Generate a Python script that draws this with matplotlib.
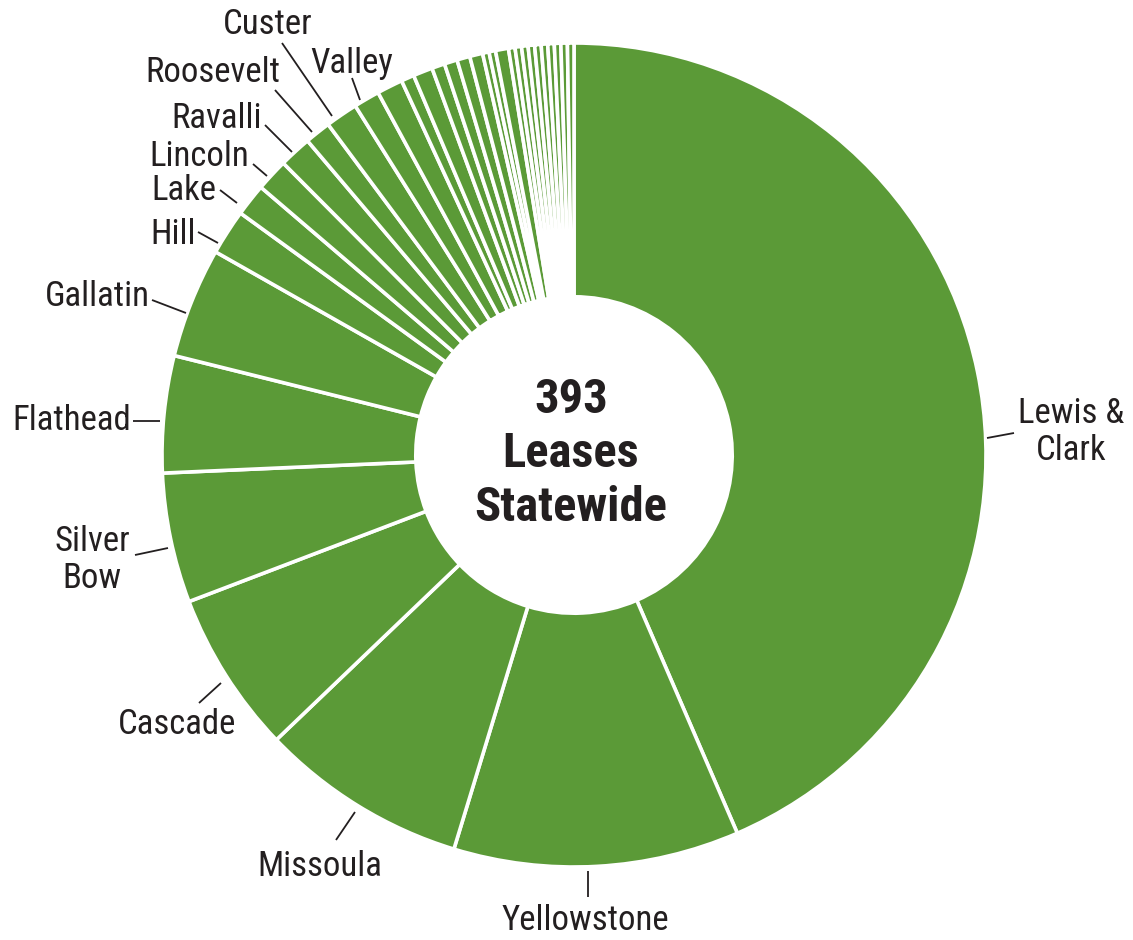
import matplotlib
matplotlib.use("Agg")
import matplotlib.pyplot as plt
import logging
logging.getLogger("matplotlib.font_manager").setLevel(logging.ERROR)

# ---------------- data ----------------
counties = ["Lewis & Clark", "Yellowstone", "Missoula", "Cascade", "Silver Bow",
            "Flathead", "Gallatin", "Hill", "Lake", "Lincoln", "Ravalli",
            "Roosevelt", "Custer", "Valley",
            "o1", "o2", "o3", "o4", "o5", "o6", "o7", "o8", "o9", "o10",
            "o11", "o12", "o13", "o14", "o15", "o16", "o17", "o18", "o19", "o20"]
leases = [171, 44, 32, 25, 20,
          18, 17, 7, 5, 5, 5,
          4, 5, 4,
          4, 2, 3, 2, 2, 2, 2, 1, 1, 2,
          1, 1, 1, 1, 1, 1, 1, 1, 1, 1]
center_lines = ["393", "Leases", "Statewide"]

# ---------------- style ----------------
FONT = ["Roboto Condensed", "Liberation Sans Narrow", "Roboto", "DejaVu Sans"]
GREEN = "#5b9a37"
INK = "#231f20"

W, H = 1133, 940
fig = plt.figure(figsize=(W / 100, H / 100), dpi=100)
ax = fig.add_axes([0, 0, 1, 1])

CX, CY, R = 574, 455, 412
# y axis is inverted below (image-like coords), so start at -90 and go
# "counter-clockwise" in data space, which is clockwise on screen from 12 o'clock
wedges, _ = ax.pie(leases, startangle=-90, counterclock=True, radius=R,
                   center=(CX, CY), colors=[GREEN] * len(leases),
                   wedgeprops=dict(width=R * 0.616, edgecolor="white", linewidth=2.6))
ax.set_xlim(0, W)
ax.set_ylim(H, 0)
ax.set_aspect("equal")
ax.axis("off")

# centre text
ax.text(CX - 3, CY - 1, "\n".join(center_lines), ha="center", va="center",
        fontsize=35, fontweight="bold", color=INK, family=FONT, linespacing=1.22)

# labels: (text, text x, text y, ha, leader line (x0,y0,x1,y1))
labels = [
    ("Lewis &\nClark", 1071, 432, "center", (987, 438, 1014, 433)),
    ("Yellowstone", 585, 920, "center", (588, 871, 588, 897)),
    ("Missoula", 320, 866, "center", (355, 812, 336, 840)),
    ("Cascade", 177, 724, "center", (221, 683, 199, 703)),
    ("Silver\nBow", 92, 560, "center", (135, 555, 168, 548)),
    ("Flathead", 131, 421, "right", (133, 421, 160, 421)),
    ("Gallatin", 150, 297, "right", (152, 300, 186, 313)),
    ("Hill", 196, 235, "right", (198, 232, 218, 243)),
    ("Lake", 216, 191, "right", (220, 190, 237, 203)),
    ("Lincoln", 249, 156, "right", (253, 164, 267, 176)),
    ("Ravalli", 262, 118, "right", (265, 125, 292, 152)),
    ("Roosevelt", 280, 73, "right", (275, 90, 312, 132)),
    ("Custer", 268, 25, "center", (282, 43, 332, 116)),
    ("Valley", 352, 63, "center", (352, 78, 360, 100)),
]
for txt, tx, ty, ha, (x0, y0, x1, y1) in labels:
    ax.text(tx, ty, txt, ha=ha, va="center", fontsize=25, color=INK,
            family=FONT, linespacing=1.12)
    ax.plot([x0, x1], [y0, y1], color=INK, lw=1.3, solid_capstyle="butt")

fig.savefig("out.png", dpi=100, facecolor="white")
